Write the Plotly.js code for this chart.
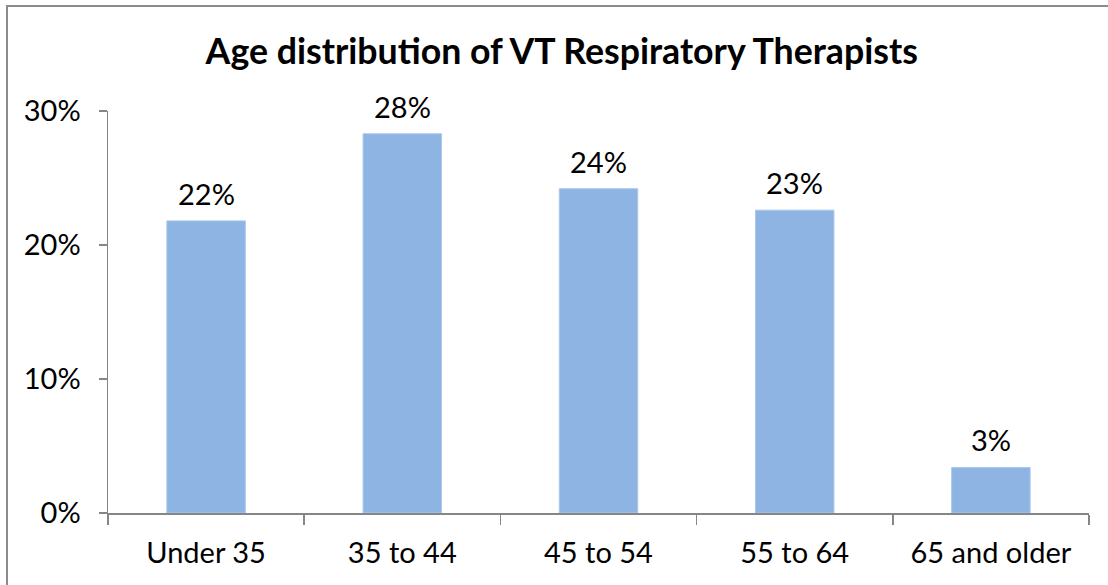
<!DOCTYPE html>
<html>
<head>
<meta charset="utf-8">
<script src="https://cdn.plot.ly/plotly-3.0.1.min.js"></script>
<style>
  html, body { margin: 0; padding: 0; background: #fff; }
  #wrap { position: relative; width: 1108px; height: 585px; overflow: hidden; }
  #chart { position: absolute; left: 0; top: 0; width: 1108px; height: 585px; }
  #frame { position: absolute; left: 6px; top: 5px; width: 1200px; height: 700px;
           border-left: 2px solid #8c8c8c; border-top: 2px solid #8c8c8c; pointer-events: none; }
</style>
</head>
<body>
<div id="wrap">
  <div id="chart"></div>
  <div id="frame"></div>
</div>
<script>
const categories = ["Under 35", "35 to 44", "45 to 54", "55 to 64", "65 and older"];
const shares = [0.218, 0.283, 0.242, 0.226, 0.034];
const chartTitle = "Age distribution of VT Respiratory Therapists";
const yTickValues = [0, 0.1, 0.2, 0.3];
const yTickLabels = ["0%", "10%", "20%", "30%"];

const FONT = "Lato, 'Open Sans', 'Liberation Sans', sans-serif";
const AXIS = "#868686";

const trace = {
  type: "bar",
  x: categories,
  y: shares,
  marker: { color: "#8db4e2", line: { color: "#a9c7eb", width: 1 } },
  hoverinfo: "skip"
};

const labels = categories.map((c, i) => ({
  x: c, y: shares[i], xref: "x", yref: "y",
  text: Math.round(shares[i] * 100) + "%",
  showarrow: false, yanchor: "bottom", yshift: 8,
  font: { family: FONT, size: 29, color: "#000" }
}));

const layout = {
  width: 1108, height: 585,
  margin: { l: 108, r: 19, t: 111, b: 72 },
  paper_bgcolor: "rgba(0,0,0,0)",
  plot_bgcolor: "rgba(0,0,0,0)",
  showlegend: false,
  bargap: 0.6,
  title: {
    text: "<b>" + chartTitle + "</b>",
    font: { family: FONT, size: 35.7, color: "#000" },
    xref: "container", x: 0.507, xanchor: "center",
    yref: "container", y: 1 - 52 / 585, yanchor: "middle"
  },
  xaxis: {
    type: "category",
    tickson: "boundaries",
    ticks: "outside", ticklen: 10, tickwidth: 1.5, tickcolor: AXIS,
    showline: true, linecolor: AXIS, linewidth: 1.5,
    showgrid: false, zeroline: false,
    tickfont: { family: FONT, size: 29, color: "#000" },
    ticklabelstandoff: 14
  },
  yaxis: {
    range: [0, 0.3],
    tickvals: yTickValues, ticktext: yTickLabels,
    ticks: "outside", ticklen: 8, tickwidth: 1.5, tickcolor: AXIS,
    showline: true, linecolor: AXIS, linewidth: 1.5,
    showgrid: false, zeroline: false,
    tickfont: { family: FONT, size: 29, color: "#000" },
    ticklabelstandoff: 12
  },
  annotations: labels
};

Plotly.newPlot("chart", [trace], layout, { staticPlot: true, displayModeBar: false });
</script>
</body>
</html>
